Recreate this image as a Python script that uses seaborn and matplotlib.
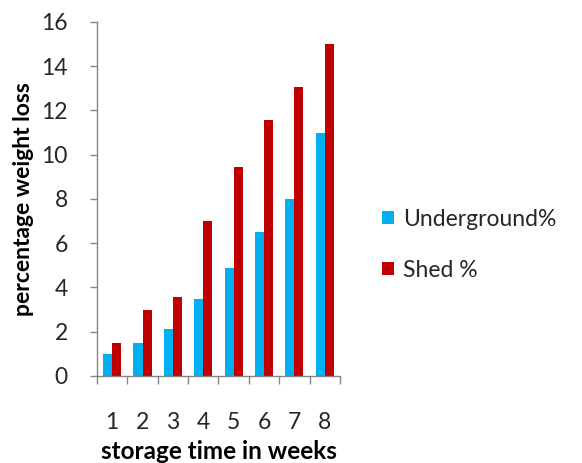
import pandas as pd
import seaborn as sns
import matplotlib as mpl
import matplotlib.pyplot as plt

sns.set_theme(style="white")
mpl.rcParams["font.family"] = ["Lato", "DejaVu Sans"]

weeks = ["1", "2", "3", "4", "5", "6", "7", "8"]
underground = [1.0, 1.5, 2.1, 3.5, 4.9, 6.5, 8.0, 11.0]
shed = [1.5, 3.0, 3.55, 7.0, 9.45, 11.55, 13.05, 15.0]
series = ["Underground%", "Shed %"]
colors = ["#00B0F0", "#C00000"]

df = pd.DataFrame({
    "week": weeks * 2,
    "loss": underground + shed,
    "series": [series[0]] * len(weeks) + [series[1]] * len(weeks),
})

fig = plt.figure(figsize=(5.82, 4.63), dpi=100)
ax = fig.add_axes([0.1667, 0.188, 0.4173, 0.7645])

sns.barplot(data=df, x="week", y="loss", hue="series", palette=colors,
            width=0.6, gap=0, saturation=1, linewidth=0, ax=ax, legend=True)

ax.set_xlim(-0.5, 7.5)
ax.set_ylim(0, 16)
ax.set_yticks(range(0, 17, 2))
ax.set_xticks(range(8), labels=weeks)
ax.set_xticks([i - 0.5 for i in range(9)], minor=True)
ax.tick_params(axis="x", which="major", length=0, pad=26, labelsize=16.5, colors="#262626")
ax.tick_params(axis="x", which="minor", length=6, color="#868686", width=1, bottom=True)
ax.tick_params(axis="y", length=5, color="#868686", width=1, left=True, pad=16,
               labelsize=16.5, labelcolor="#262626")

for s in ["top", "right"]:
    ax.spines[s].set_visible(False)
for s in ["left", "bottom"]:
    ax.spines[s].set_color("#868686")
    ax.spines[s].set_linewidth(1)

ax.set_xlabel("storage time in weeks", fontsize=17.5, fontweight="bold", labelpad=5, color="black")
ax.set_ylabel("percentage weight loss", fontsize=16.5, fontweight="bold", labelpad=5, color="black")

sns.move_legend(ax, loc="center left", bbox_to_anchor=(1.09, 0.37), title=None,
                frameon=False, fontsize=16.5, handlelength=0.5, handleheight=0.5,
                handletextpad=0.4, labelspacing=1.3, labelcolor="#262626")

fig.savefig("out.png", dpi=100)
